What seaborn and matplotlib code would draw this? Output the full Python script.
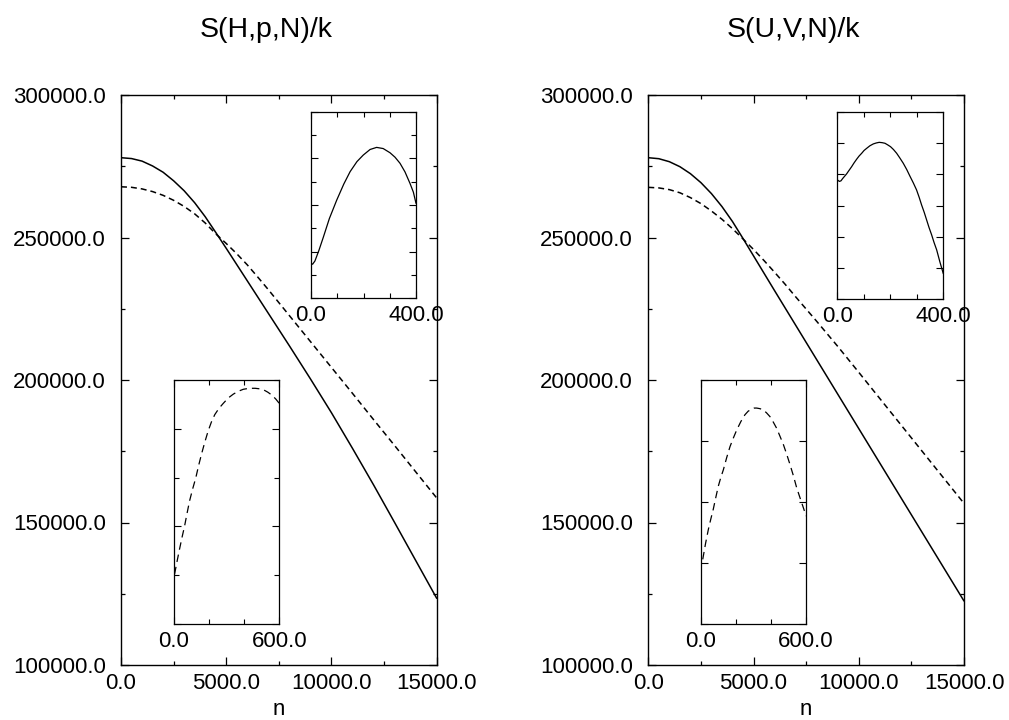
import matplotlib
matplotlib.use("Agg")
import matplotlib.pyplot as plt
import seaborn as sns
from matplotlib.ticker import MultipleLocator, FixedLocator, FormatStrFormatter, NullFormatter

# ---------------- data ----------------
n_main = [0, 500, 1000, 1500, 2000, 2500, 3000, 3500, 4000, 4500, 5000, 5500,
          6000, 6500, 7000, 7500, 8000, 9000, 10000, 11000, 12000, 13000,
          14000, 15000]

hpn_solid = [278000, 277700, 276800, 275100, 272900, 269900, 266400, 262200,
             257300, 251800, 246200, 240500, 234800, 229100, 223400, 217700,
             212000, 200400, 188500, 176000, 163200, 150000, 136700, 123400]
hpn_dashed = [267800, 267610, 267050, 266110, 264800, 263050, 260900, 258300,
              255100, 251300, 247900, 244300, 240400, 236100, 231700, 227150,
              222600, 213500, 204400, 195300, 186100, 177000, 167800, 158600]

uvn_solid = [278000, 277650, 276600, 274850, 272400, 269250, 265400, 260850,
             255600, 249650, 243550, 237450, 231350, 225300, 219250, 213200,
             207150, 195050, 182950, 170850, 158750, 146650, 134550, 122450]
uvn_dashed = [267600, 267400, 266800, 265700, 264000, 261900, 259300, 256400,
              253100, 249500, 245800, 241900, 237800, 233600, 229200, 224900,
              220600, 211800, 202700, 193500, 184300, 175100, 165900, 156700]

# insets (arbitrary, unlabeled vertical units)
hpn_top_n = [0, 6, 15, 30, 47, 70, 98, 125, 149, 175, 199, 225, 250, 275, 301,
             320, 339, 358, 377, 390, 400]
hpn_top_s = [1.50, 1.46, 1.60, 2.05, 2.62, 3.42, 4.21, 4.90, 5.43, 5.86, 6.14,
             6.38, 6.47, 6.42, 6.24, 6.05, 5.79, 5.42, 4.93, 4.55, 4.07]

hpn_bot_n = [6, 20, 34, 48, 63, 77, 91, 108, 126, 142, 158, 177, 196, 215, 234,
             258, 282, 310, 339, 368, 396, 430, 463, 487, 510, 535, 558, 580, 600]
hpn_bot_s = [1.02, 1.28, 1.53, 1.77, 2.01, 2.27, 2.52, 2.76, 2.99, 3.24, 3.47,
             3.72, 3.95, 4.14, 4.29, 4.42, 4.52, 4.63, 4.71, 4.77, 4.81, 4.83,
             4.83, 4.82, 4.80, 4.75, 4.69, 4.61, 4.52]

uvn_top_n = [0, 8, 14, 20, 27, 35, 44, 54, 63, 73, 82, 92, 101, 111, 123, 136,
             147, 158, 169, 180, 190, 201, 212, 224, 236, 249, 262, 274, 287,
             299, 309, 318, 328, 337, 346, 356, 365, 375, 387, 400]
uvn_top_s = [3.82, 3.77, 3.79, 3.86, 3.93, 4.01, 4.12, 4.24, 4.36, 4.48, 4.58,
             4.67, 4.76, 4.83, 4.91, 4.97, 5.00, 5.02, 5.01, 4.99, 4.94, 4.88,
             4.79, 4.67, 4.52, 4.35, 4.15, 3.94, 3.72, 3.50, 3.26, 3.02, 2.78,
             2.54, 2.30, 2.06, 1.82, 1.58, 1.20, 0.82]

uvn_bot_n = [10, 26, 42, 56, 70, 85, 99, 113, 128, 147, 166, 185, 204, 228, 251,
             270, 290, 304, 318, 337, 356, 375, 394, 413, 432, 451, 471, 490,
             509, 528, 547, 561, 575, 588, 600]
uvn_bot_s = [1.06, 1.32, 1.55, 1.72, 1.88, 2.08, 2.26, 2.40, 2.53, 2.73, 2.91,
             3.05, 3.18, 3.32, 3.43, 3.49, 3.52, 3.54, 3.54, 3.53, 3.51, 3.46,
             3.40, 3.31, 3.21, 3.08, 2.94, 2.78, 2.61, 2.43, 2.23, 2.11, 1.99,
             1.88, 1.77]

titles = ["S(H,p,N)/k", "S(U,V,N)/k"]
x_label = "n"

# ---------------- style ----------------
sns.set_style("ticks")
plt.rcParams['font.family'] = ['Liberation Sans', 'DejaVu Sans']

W, H = 1009, 720
fig = plt.figure(figsize=(W / 100, H / 100), dpi=100)
fig.patch.set_facecolor("white")


def fr(x0, y0, x1, y1):
    """pixel box -> figure fraction rect"""
    return [x0 / W, 1 - y1 / H, (x1 - x0) / W, (y1 - y0) / H]


MAIN_DASH = (0, (3.9, 2.6))
INSET_DASH = (0, (6.0, 4.0))


def style_axes(ax, lw=1.0):
    for s in ax.spines.values():
        s.set_visible(True)
        s.set_color("black")
        s.set_linewidth(lw)
    ax.set_facecolor("white")


def make_main(rect, solid, dashed, title):
    ax = fig.add_axes(rect)
    sns.lineplot(x=n_main, y=solid, ax=ax, color="black", linewidth=1.1)
    sns.lineplot(x=n_main, y=dashed, ax=ax, color="black", linewidth=1.1,
                 linestyle=MAIN_DASH)
    ax.set_xlim(0, 15000)
    ax.set_ylim(100000, 300000)
    ax.xaxis.set_major_locator(MultipleLocator(5000))
    ax.xaxis.set_minor_locator(MultipleLocator(2500))
    ax.yaxis.set_major_locator(MultipleLocator(50000))
    ax.yaxis.set_minor_locator(MultipleLocator(25000))
    ax.xaxis.set_major_formatter(FormatStrFormatter("%.1f"))
    ax.yaxis.set_major_formatter(FormatStrFormatter("%.1f"))
    ax.tick_params(which="both", direction="in", top=True, right=True,
                   width=0.9, colors="black", labelsize=16)
    ax.tick_params(which="major", length=6)
    ax.tick_params(which="minor", length=3)
    ax.tick_params(axis="x", pad=5.5)
    ax.tick_params(axis="y", pad=11)
    ax.set_xlabel("")
    ax.set_ylabel("")
    style_axes(ax)
    ax.text(0.5 - 13 / 315.7, 1 + (95 - 37) / 570, title, transform=ax.transAxes,
            ha="center", va="baseline", fontsize=20.5, color="black")
    ax.text(0.5, -(715 - 665) / 570, x_label, transform=ax.transAxes,
            ha="center", va="baseline", fontsize=16, color="black")
    return ax


def make_inset(rect, xs, ys, xmax, xminor, ymax, yminor_step, ymajor_step,
               dashed=False):
    ax = fig.add_axes(rect)
    kw = dict(color="black", linewidth=0.9)
    if dashed:
        kw["linestyle"] = INSET_DASH
    sns.lineplot(x=xs, y=ys, ax=ax, **kw)
    ax.set_xlim(0, xmax)
    ax.set_ylim(0, ymax)
    ax.xaxis.set_major_locator(FixedLocator([0, xmax]))
    ax.xaxis.set_minor_locator(MultipleLocator(xminor))
    ax.xaxis.set_major_formatter(FormatStrFormatter("%.1f"))
    ax.yaxis.set_major_locator(MultipleLocator(ymajor_step))
    ax.yaxis.set_minor_locator(MultipleLocator(yminor_step))
    ax.yaxis.set_major_formatter(NullFormatter())
    ax.tick_params(which="both", direction="in", top=True, right=True,
                   width=0.8, colors="black", labelsize=16, labelleft=False)
    ax.tick_params(which="major", length=5)
    ax.tick_params(which="minor", length=3.5)
    ax.tick_params(axis="x", pad=5)
    ax.set_xlabel("")
    ax.set_ylabel("")
    style_axes(ax, lw=0.9)
    return ax


# left panel
make_main(fr(121, 95, 436.7, 665), hpn_solid, hpn_dashed, titles[0])
make_inset(fr(311, 111.7, 416, 298.3), hpn_top_n, hpn_top_s, 400, 100, 8, 1, 2)
make_inset(fr(173.5, 380, 279.3, 624), hpn_bot_n, hpn_bot_s, 600, 200, 5, 1, 2,
           dashed=True)

# right panel
make_main(fr(648.3, 95, 964, 665), uvn_solid, uvn_dashed, titles[1])
make_inset(fr(837.3, 111.7, 943.3, 299.3), uvn_top_n, uvn_top_s, 400, 100, 6, 1, 1)
make_inset(fr(701, 380, 806, 624), uvn_bot_n, uvn_bot_s, 600, 200, 4, 1, 1,
           dashed=True)

fig.savefig("out.png", dpi=100, facecolor="white")
